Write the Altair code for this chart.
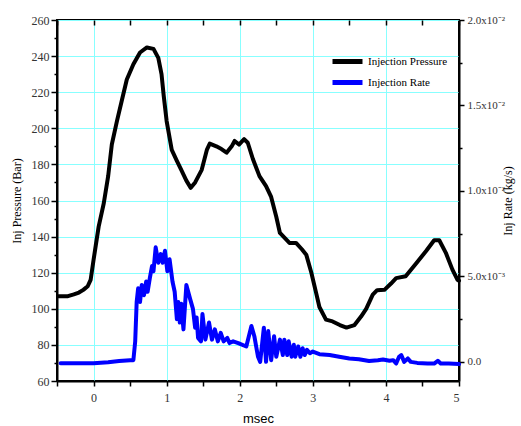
import altair as alt
import pandas as pd

# ---- data ----
p_time = [-0.48, -0.35, -0.27, -0.2, -0.14, -0.08, -0.04, 0.0, 0.03, 0.07, 0.14, 0.2, 0.25, 0.32,
          0.39, 0.455, 0.545, 0.636, 0.73, 0.82, 0.886, 0.93, 0.96, 1.0, 1.07, 1.14, 1.2, 1.27,
          1.33, 1.39, 1.48, 1.55, 1.59, 1.68, 1.75, 1.82, 1.89, 1.93, 1.99, 2.06, 2.11, 2.18,
          2.27, 2.36, 2.43, 2.5, 2.55, 2.68, 2.77, 2.85, 2.91, 2.98, 3.05, 3.09, 3.18, 3.27,
          3.37, 3.46, 3.57, 3.66, 3.73, 3.82, 3.88, 3.98, 4.07, 4.14, 4.27, 4.41, 4.55, 4.66,
          4.73, 4.82, 4.91, 4.98, 5.0]
p_value = [107, 107, 108, 109, 110.5, 112.5, 116, 127, 135, 145.5, 158.5, 173.5, 191, 204,
           216, 227, 235.5, 242, 244.8, 244, 239, 230, 218, 204, 188, 182, 177, 171,
           167, 170, 177, 188, 191.5, 190, 188.5, 186.5, 190, 193, 191, 194, 192, 183,
           173.5, 168, 162, 151, 142, 136.5, 136.5, 133, 130, 120, 108, 101, 94, 93,
           91, 89.6, 91, 95.7, 100, 107.8, 110.3, 110.5, 114, 117, 118, 125, 132, 138,
           138, 131, 121.7, 116, 115.5]

r_time = [-0.45, 0.0, 0.2, 0.35, 0.5, 0.545, 0.57, 0.59, 0.61, 0.636, 0.66, 0.69, 0.72, 0.74,
          0.77, 0.80, 0.82, 0.85, 0.886, 0.92, 0.946, 0.977, 1.01, 1.04, 1.08, 1.11, 1.14,
          1.16, 1.18, 1.2, 1.23, 1.27, 1.32, 1.36, 1.39, 1.41, 1.43, 1.47, 1.49, 1.53, 1.58,
          1.62, 1.66, 1.70, 1.74, 1.78, 1.83, 1.86, 1.91, 1.98, 2.09, 2.16, 2.20, 2.25, 2.28,
          2.33, 2.36, 2.39, 2.43, 2.47, 2.50, 2.55, 2.59, 2.61, 2.65, 2.67, 2.71, 2.74, 2.76,
          2.80, 2.83, 2.86, 2.89, 2.92, 2.96, 3.0, 3.09, 3.23, 3.36, 3.5, 3.63, 3.77, 3.89,
          3.96, 4.05, 4.1, 4.14, 4.18, 4.21, 4.25, 4.3, 4.34, 4.43, 4.57, 4.66, 4.71, 4.75,
          4.86, 5.0]
r_value = [-0.00008, -0.00008, -0.00002, 0.00005, 0.0001, 0.0001, 0.0012, 0.0035, 0.0043,
           0.0035, 0.0045, 0.0039, 0.0047, 0.0041, 0.0049, 0.0056, 0.0053, 0.0067, 0.0058,
           0.0063, 0.0058, 0.0065, 0.0053, 0.0060, 0.0047, 0.0041, 0.0025, 0.0035, 0.0023,
           0.0034, 0.0019, 0.0045, 0.0037, 0.0031, 0.0020, 0.0026, 0.0014, 0.0012, 0.0028,
           0.0013, 0.0023, 0.0013, 0.0019, 0.0012, 0.0017, 0.0012, 0.0014, 0.0011, 0.0012,
           0.0011, 0.0009, 0.0021, 0.0015, 0.0003, 0.0, 0.0020, 0.0, 0.0018, 0.0001, 0.0015,
           0.0003, 0.0013, 0.0004, 0.0013, 0.0004, 0.0012, 0.0003, 0.0010, 0.0003, 0.0009,
           0.0003, 0.0008, 0.0004, 0.0007, 0.0005, 0.0006, 0.00045, 0.0004, 0.0003, 0.0002,
           0.00015, 0.00005, 0.0001, 0.00014, 0.00006, 0.0001, -0.0001, 0.0003, 0.0004, 0.0,
           0.0002, 0.0, -0.00006, -0.0001, -0.0001, 0.00006, -0.0001, -0.0001, -0.00013]

series_names = ["Injection Pressure", "Injection Rate"]
series_colors = ["#000000", "#0000ff"]

x_tick_values = [-0.5, 0, 0.5, 1, 1.5, 2, 2.5, 3, 3.5, 4, 4.5, 5]
p_tick_values = list(range(60, 261, 10))
r_tick_values = [0, 0.0025, 0.005, 0.0075, 0.01, 0.0125, 0.015, 0.0175, 0.02]
r_tick_labels = ["0.0", "", "5.0x10\u207b\u00b3", "", "1.0x10\u207b\u00b2", "",
                 "1.5x10\u207b\u00b2", "", "2.0x10\u207b\u00b2"]

# ---- tables ----
p_df = pd.DataFrame({"t": p_time, "v": p_value, "series": series_names[0]})
r_df = pd.DataFrame({"t": r_time, "v": r_value, "series": series_names[1]})

serif = "Liberation Serif"
grid_col = "#88ffff"

r_expr = ""
for v, lab in zip(r_tick_values, r_tick_labels):
    r_expr += f"abs(datum.value - {v}) < 1e-9 ? '{lab}' : "
r_expr += "''"

x_scale = alt.Scale(domain=[-0.5, 5], nice=False, zero=False)

color = alt.Color(
    "series:N",
    scale=alt.Scale(domain=series_names, range=series_colors),
    legend=alt.Legend(
        title=None, orient="none", legendX=285, legendY=36,
        symbolType="M-7.5,0L7.5,0", symbolSize=16, symbolStrokeWidth=5,
        labelFont=serif, labelFontSize=11, labelColor="#000000",
        labelOffset=15, rowPadding=0, padding=0,
    ),
)

pressure = alt.Chart(p_df).mark_line(strokeWidth=4, strokeJoin="round", strokeCap="round").encode(
    x=alt.X("t:Q", scale=x_scale, title="msec",
            axis=alt.Axis(values=x_tick_values, orient="bottom",
                          labelExpr="datum.value % 1 === 0 ? format(datum.value, 'd') : ''",
                          labelFont=serif, labelFontSize=12, labelColor="#333333",
                          tickSize=5, tickWidth=1.5, tickColor="#000000",
                          domainColor="#000000", domainWidth=2, labelPadding=6,
                          titleFont="Liberation Sans", titleFontSize=13, titleFontWeight="normal",
                          titleColor="#000000", titlePadding=9,
                          grid=True, gridColor=grid_col, gridWidth=1,
                          gridOpacity={"condition": {"test": "datum.value % 1 === 0", "value": 1}, "value": 0})),
    y=alt.Y("v:Q", scale=alt.Scale(domain=[60, 260], nice=False, zero=False),
            title="Inj Pressure (Bar)",
            axis=alt.Axis(values=p_tick_values, orient="left",
                          labelExpr="datum.value % 20 === 0 ? datum.label : ''",
                          labelFont=serif, labelFontSize=12, labelColor="#333333",
                          tickSize={"condition": {"test": "datum.value % 20 === 0", "value": 6}, "value": 3},
                          tickWidth=1.5, tickColor="#000000",
                          domainColor="#000000", domainWidth=2, labelPadding=2,
                          titleFont=serif, titleFontSize=12, titleFontWeight="normal",
                          titleColor="#000000", titlePadding=8,
                          grid=True, gridColor=grid_col, gridWidth=1,
                          gridOpacity={"condition": {"test": "datum.value % 20 === 0", "value": 1}, "value": 0})),
    color=color,
)

rate = alt.Chart(r_df).mark_line(strokeWidth=4, strokeJoin="round", strokeCap="round").encode(
    x=alt.X("t:Q", scale=x_scale, title=None,
            axis=alt.Axis(values=x_tick_values, orient="top", labels=False, domain=False,
                          offset=-5, tickSize=5, tickWidth=1.5, tickColor="#000000", grid=False)),
    y=alt.Y("v:Q", scale=alt.Scale(domain=[-0.00112, 0.02], nice=False, zero=False),
            title="Inj Rate (kg/s)",
            axis=alt.Axis(values=r_tick_values, orient="right", labelExpr=r_expr,
                          labelFont=serif, labelFontSize=11, labelColor="#333333",
                          tickSize={"condition": {"test": "abs(datum.value % 0.005) < 1e-9 || abs(datum.value % 0.005 - 0.005) < 1e-9", "value": 5}, "value": 3},
                          tickWidth=1.5, tickColor="#000000",
                          domainColor="#000000", domainWidth=2, labelPadding=3,
                          titleFont=serif, titleFontSize=12, titleFontWeight="normal",
                          titleColor="#000000", titleAngle=270, titlePadding=10, grid=False)),
    color=color,
)

chart = alt.layer(pressure, rate).resolve_scale(y="independent").resolve_axis(x="independent").properties(
    width=402, height=361,
    autosize=alt.AutoSizeParams(type="none"),
    padding={"left": 57, "top": 20, "right": 62, "bottom": 45},
    background="#ffffff",
).configure_view(stroke="#000000", strokeWidth=2)

chart.save("out.html", embed_options={"renderer": "svg", "actions": False})
